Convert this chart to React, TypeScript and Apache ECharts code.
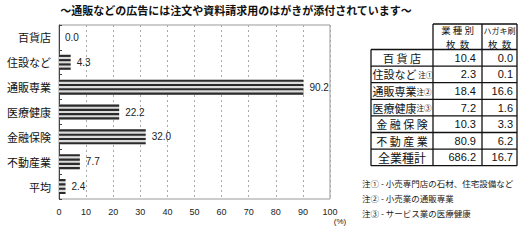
import React, { useEffect, useRef } from "react";
import * as echarts from "echarts";

const categories = ["百貨店", "住設など", "通販専業", "医療健康", "金融保険", "不動産業", "平均"];
const shareValues = [0.0, 4.3, 90.2, 22.2, 32.0, 7.7, 2.4];
const xTicks = [0, 10, 20, 30, 40, 50, 60, 70, 80, 90, 100];

const tableNames = ["百 貨 店", "住設など", "通販専業", "医療健康", "金 融 保 険", "不 動 産 業", "全業種計"];
const tableNotes = ["", "注①", "注②", "注③", "", "", ""];
const industryCounts = ["10.4", "2.3", "18.4", "7.2", "10.3", "80.9", "686.2"];
const hagakiCounts = ["0.0", "0.1", "16.6", "1.6", "3.3", "6.2", "16.7"];
const footnotes = [
  "注① - 小売専門店の石材、住宅設備など",
  "注② - 小売業の通販専業",
  "注③ - サービス業の医療健康",
];

const JP = '"Noto Sans CJK JP", sans-serif';
const NUM = '"Liberation Sans", Arial, sans-serif';

export default function App() {
  const ref = useRef<HTMLDivElement>(null);
  useEffect(() => {
    document.body.style.margin = "0";
    const chart = echarts.init(ref.current!, null, { renderer: "svg" });

    const graphics: any[] = [];
    graphics.push({
      type: "text",
      x: 236,
      y: 10,
      style: {
        text: "～通販などの広告には注文や資料請求用のはがきが添付されています～",
        font: `bold 11px ${JP}`,
        fill: "#111",
        align: "center",
        verticalAlign: "middle",
      },
    });
    graphics.push({
      type: "text",
      x: 340,
      y: 221,
      style: { text: "(%)", font: `8px ${NUM}`, fill: "#222", align: "center", verticalAlign: "middle" },
    });

    // table geometry
    const xL = 371, xC2 = 433, xC3 = 482, xR = 517;
    const yH = 24, y0 = 49.5, rh = 16.6;
    const yB = y0 + rh * tableNames.length;
    const lc = "#111";
    const lw = 1.3;
    const ln = (x1: number, y1: number, x2: number, y2: number) =>
      graphics.push({ type: "line", shape: { x1, y1, x2, y2 }, style: { stroke: lc, lineWidth: lw } });
    ln(xC2, yH, xR, yH);
    ln(xC2, yH, xC2, yB);
    ln(xC3, yH, xC3, yB);
    ln(xR, yH, xR, yB);
    ln(xL, y0, xL, yB);
    for (let i = 0; i <= tableNames.length; i++) ln(xL, y0 + rh * i, xR, y0 + rh * i);

    // header
    const hdr = (x: number, y: number, text: string, size: number) =>
      graphics.push({
        type: "text",
        x,
        y,
        style: { text, fontSize: size, fontFamily: JP, fill: "#111", align: "center", verticalAlign: "middle" },
      });
    hdr((xC2 + xC3) / 2, 30.2, "業 種 別", 9.5);
    hdr((xC2 + xC3) / 2, 44, "枚  数", 9.5);
    hdr((xC3 + xR) / 2, 30.2, "ハガキ刷", 8);
    hdr((xC3 + xR) / 2, 44, "枚  数", 9.5);

    tableNames.forEach((name, i) => {
      const cy = y0 + rh * i + rh / 2;
      if (tableNotes[i]) {
        graphics.push({
          type: "text",
          x: xL + 1.5,
          y: cy,
          style: {
            text: `{a|${name}}{b|${tableNotes[i] === "注①" ? " " : ""}${tableNotes[i]}}`,
            rich: {
              a: { fontSize: 11, fontFamily: JP, fill: "#111" },
              b: { fontSize: 7.5, fontFamily: JP, fill: "#111" },
            },
            verticalAlign: "middle",
          },
        });
      } else {
        graphics.push({
          type: "text",
          x: (xL + xC2) / 2,
          y: cy,
          style: {
            text: name,
            fontSize: i === tableNames.length - 1 ? 12 : 11,
            fontFamily: JP,
            fill: "#111",
            align: "center",
            verticalAlign: "middle",
          },
        });
      }
      graphics.push({ type: "text", x: xC3 - 6, y: cy, style: { text: industryCounts[i], fontSize: 11, fontFamily: NUM, fill: "#111", align: "right", verticalAlign: "middle" } });
      graphics.push({ type: "text", x: xR - 4, y: cy, style: { text: hagakiCounts[i], fontSize: 11, fontFamily: NUM, fill: "#111", align: "right", verticalAlign: "middle" } });
    });

    footnotes.forEach((t, i) => {
      graphics.push({ type: "text", x: 362, y: 183 + i * 15, style: { text: t, fontSize: 8.5, fontFamily: JP, fill: "#222", verticalAlign: "middle" } });
    });

    chart.setOption({
      animation: false,
      grid: { left: 59, width: 271, top: 25, bottom: 47, show: true, borderColor: "#999", borderWidth: 1 },
      xAxis: {
        type: "value",
        min: xTicks[0],
        max: xTicks[xTicks.length - 1],
        interval: 10,
        axisLine: { show: false },
        axisTick: { show: false },
        axisLabel: { fontSize: 9, fontFamily: NUM, color: "#222", margin: 8 },
        splitLine: { show: true, lineStyle: { color: "#aaa", type: [2, 3], width: 1 } },
      },
      yAxis: {
        type: "category",
        inverse: true,
        data: categories,
        axisLine: { show: true, lineStyle: { color: "#444", width: 1 } },
        axisTick: { show: true, inside: true, length: 3, lineStyle: { color: "#444" } },
        axisLabel: { fontSize: 11, fontFamily: JP, color: "#111", margin: 8 },
      },
      series: [
        {
          type: "custom",
          encode: { x: 0, y: 1 },
          data: shareValues.map((v, i) => [v, i]),
          renderItem: (params: any, api: any) => {
            const v = api.value(0);
            const idx = api.value(1);
            const s = api.coord([0, idx]);
            const e = api.coord([v, idx]);
            const h = 15;
            const d = h / 7;
            const w = e[0] - s[0];
            const children: any[] = [];
            if (w > 0) {
              children.push({ type: "rect", shape: { x: s[0], y: s[1] - h / 2, width: w, height: h }, style: { fill: "#dcdcdc" } });
              for (let k = 0; k < 4; k++) {
                children.push({ type: "rect", shape: { x: s[0], y: s[1] - h / 2 + k * 2 * d, width: w, height: d }, style: { fill: "#2b2b2b" } });
              }
            }
            children.push({
              type: "text",
              style: { text: v.toFixed(1), x: e[0] + 6, y: s[1], verticalAlign: "middle", fill: "#222", fontSize: 10, fontFamily: NUM },
            });
            return { type: "group", children };
          },
        },
      ],
      graphic: graphics,
    });
    return () => chart.dispose();
  }, []);
  return <div ref={ref} style={{ position: "absolute", left: 0, top: 0, width: 520, height: 246, background: "#fff" }} />;
}
